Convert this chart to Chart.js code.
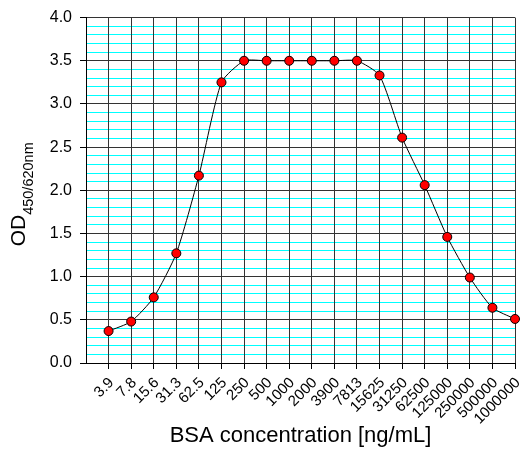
<!DOCTYPE html>
<html>
<head>
<meta charset="utf-8">
<script src="https://cdn.jsdelivr.net/npm/chart.js@4"></script>
<style>
  html, body { margin: 0; padding: 0; background: #fff; }
  #wrap { width: 521px; height: 449px; }
</style>
</head>
<body>
<div id="wrap"><canvas id="odChart" width="521" height="449"></canvas></div>
<script>
const concentrations = ["3.9", "7.8", "15.6", "31.3", "62.5", "125", "250", "500", "1000", "2000",
  "3900", "7813", "15625", "31250", "62500", "125000", "250000", "500000", "1000000"];
const odValues = [0.37, 0.48, 0.76, 1.27, 2.17, 3.25, 3.50, 3.50, 3.50, 3.50,
  3.50, 3.50, 3.33, 2.61, 2.06, 1.46, 0.99, 0.64, 0.51];

const FONT = "'Liberation Sans', Arial, sans-serif";
const isMajor = v => Math.abs(v * 2 - Math.round(v * 2)) < 1e-6;

// y title needs a subscript, so it is drawn by hand
const yTitle = {
  id: "yTitle",
  afterDraw(chart) {
    const ctx = chart.ctx;
    const mid = (chart.chartArea.top + chart.chartArea.bottom) / 2 + 4;
    ctx.save();
    ctx.fillStyle = "#000";
    ctx.textBaseline = "alphabetic";
    ctx.textAlign = "left";
    ctx.font = "21px " + FONT;
    const w1 = ctx.measureText("OD").width;
    ctx.font = "14.5px " + FONT;
    const w2 = ctx.measureText("450/620nm").width;
    ctx.translate(25, mid + (w1 + w2) / 2);
    ctx.rotate(-Math.PI / 2);
    ctx.font = "21px " + FONT;
    ctx.fillText("OD", 0, 0);
    ctx.font = "14.5px " + FONT;
    ctx.fillText("450/620nm", w1, 8);
    ctx.restore();
  }
};

new Chart(document.getElementById("odChart"), {
  type: "line",
  data: {
    labels: [""].concat(concentrations),
    datasets: [{
      data: [null].concat(odValues),
      borderColor: "#000",
      borderWidth: 1,
      tension: 0.2,
      pointRadius: 4.5,
      pointBackgroundColor: "#ff0000",
      pointBorderColor: "#000",
      pointBorderWidth: 1
    }]
  },
  options: {
    responsive: false,
    animation: false,
    layout: { padding: { left: 0, right: 6, top: 15, bottom: 0 } },
    plugins: {
      legend: { display: false },
      tooltip: { enabled: false }
    },
    scales: {
      y: {
        min: 0,
        max: 4,
        afterFit: s => { s.width = 86; },
        ticks: {
          stepSize: 0.1,
          autoSkip: false,
          padding: 8,
          color: "#000",
          font: { family: FONT, size: 16 },
          callback: v => isMajor(v) ? v.toFixed(1) : ""
        },
        grid: {
          color: c => isMajor(c.tick.value) ? "#333" : "#00ffff",
          lineWidth: 1,
          tickLength: 6,
          tickColor: c => isMajor(c.tick.value) ? "#000" : "rgba(0,0,0,0)"
        },
        border: { color: "#000" }
      },
      x: {
        offset: false,
        afterFit: s => { s.height = 86; s.paddingRight = 0; },
        ticks: {
          autoSkip: false,
          minRotation: 45,
          maxRotation: 45,
          padding: 5,
          labelOffset: 3,
          color: "#000",
          font: { family: FONT, size: 15 }
        },
        grid: {
          color: "#333",
          lineWidth: 1,
          tickLength: 6,
          tickColor: c => c.index === 0 ? "rgba(0,0,0,0)" : "#000"
        },
        border: { color: "#000" },
        title: {
          display: true,
          text: "BSA concentration [ng/mL]",
          color: "#000",
          font: { family: FONT, size: 22 },
          padding: { top: 0, bottom: 0 }
        }
      }
    }
  },
  plugins: [yTitle]
});
</script>
</body>
</html>
